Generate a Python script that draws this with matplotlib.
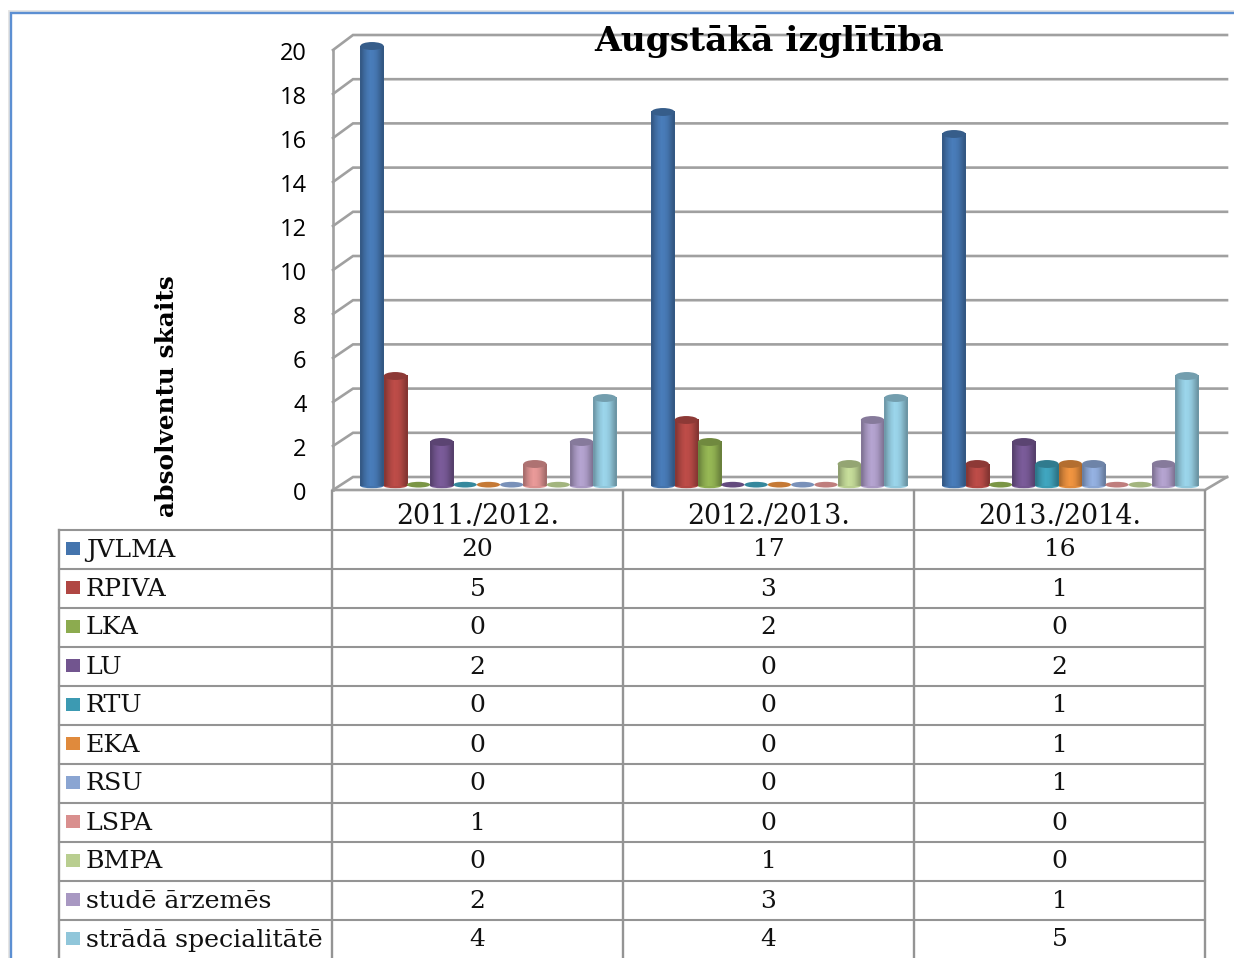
import matplotlib
matplotlib.use("Agg")
import matplotlib.pyplot as plt
import numpy as np
from matplotlib.patches import Ellipse, Rectangle
from matplotlib.transforms import ScaledTranslation

years = ["2011./2012.", "2012./2013.", "2013./2014."]
names = ["JVLMA", "RPIVA", "LKA", "LU", "RTU", "EKA", "RSU", "LSPA", "BMPA",
         "studē ārzemēs", "strādā specialitātē"]
jvlma = [20, 17, 16]
rpiva = [5, 3, 1]
lka = [0, 2, 0]
lu = [2, 0, 2]
rtu = [0, 0, 1]
eka = [0, 0, 1]
rsu = [0, 0, 1]
lspa = [1, 0, 0]
bmpa = [0, 1, 0]
studies = [2, 3, 1]
works = [4, 4, 5]
series = [jvlma, rpiva, lka, lu, rtu, eka, rsu, lspa, bmpa, studies, works]
colors = ["#4474ad", "#b04743", "#8cab4f", "#72558f", "#3c9ab2", "#e08a3c",
          "#8aa5d2", "#d98f8e", "#b9ce90", "#a898c2", "#90c6da"]
yticks = list(range(0, 21, 2))

W, H = 1234, 958
grid_c = "#a0a0a0"
line_c = "#949494"
serif = "DejaVu Serif"

fig = plt.figure(figsize=(W / 100, H / 100), dpi=100)

# pixel canvas for frame, walls and table
bg = fig.add_axes([0, 0, 1, 1])
bg.set_xlim(0, W)
bg.set_ylim(H, 0)
bg.axis("off")

# frame around the chart
bg.plot([8.5, 8.5, W], [H, 10.5, 10.5], color="#e2e2e2", lw=2, solid_joinstyle="miter")
bg.plot([10.5, 10.5, W], [H, 12.5, 12.5], color="#5c8fd2", lw=1.7, solid_joinstyle="miter")

# walls of the 3d box
front0, back0, fstep, bstep = 490, 477, 22.0, 22.1
for v in yticks:
    fy = front0 - fstep * v
    by = back0 - bstep * v
    bg.plot([333, 353, 1227], [fy, by, by], color=grid_c, lw=1.9, solid_joinstyle="miter")
bg.plot([333, 333], [front0, front0 - fstep * 20], color=grid_c, lw=1.9)
bg.plot([333, 1205, 1227], [front0, front0, back0], color=grid_c, lw=1.9, solid_joinstyle="miter")

# table
col_x = [332, 623, 914, 1205]
row_y = [491 + 39 * i for i in range(12)]
for y in row_y[1:]:
    bg.plot([59, 1205], [y, y], color=line_c, lw=1.5)
bg.plot([59, 59], [row_y[1], H], color=line_c, lw=1.7)
for x in col_x:
    bg.plot([x, x], [row_y[0], H], color=line_c, lw=1.7)

fs = 18
for j, yr in enumerate(years):
    bg.text((col_x[j] + col_x[j + 1]) / 2, 517, yr, ha="center", va="center",
            family=serif, fontsize=19.4, color="#111111")
for i, (name, vals) in enumerate(zip(names, series)):
    cy = row_y[1] + 39 * i + 19
    bg.add_patch(Rectangle((66, cy - 7), 14, 13, color=colors[i], lw=0))
    bg.text(86, cy + 1, name, ha="left", va="center", family=serif, fontsize=18.2, color="#111111")
    for j, v in enumerate(vals):
        bg.text((col_x[j] + col_x[j + 1]) / 2, cy + 1, str(v), ha="center", va="center",
                family=serif, fontsize=fs, color="#111111")

bg.text(769, 41, "Augstākā izglītība", ha="center", va="center", family=serif,
        fontweight="bold", fontsize=24.8, color="black", zorder=20)
bg.text(167, 396, "absolventu skaits", rotation=90, ha="center", va="center", family=serif,
        fontweight="bold", fontsize=17.8, color="black")

# bars: axes runs over the three table columns, y=0 at pixel 486, y=20 at pixel 46
ax = fig.add_axes([333 / W, 1 - 486 / H, 873 / W, 440 / H])
ax.patch.set_alpha(0)
for s in ax.spines.values():
    s.set_visible(False)

bar_w = 0.08
shade = np.array([0.78, 0.92, 1.02, 1.08, 1.06, 1.0, 0.88, 0.76])
for i, (vals, c) in enumerate(zip(series, colors)):
    base = np.array(matplotlib.colors.to_rgb(c))
    xs = np.arange(3) + 0.534 + (i - 5) * bar_w
    bars = ax.bar(xs, vals, width=bar_w, color=c, lw=0, zorder=3 + i)
    img = np.clip(base[None, None, :] * shade[None, :, None], 0, 1)
    for b, v in zip(bars, vals):
        x0 = b.get_x()
        x1 = x0 + b.get_width()
        if v > 0:
            ax.add_patch(Ellipse((x0 + bar_w / 2, 0), bar_w, 0.2, color=base, lw=0,
                                 zorder=3 + i, clip_on=False))
            ax.imshow(img, extent=(x0, x1, 0, v), aspect="auto", interpolation="bilinear", zorder=3 + i)
            ax.add_patch(Ellipse((x0 + bar_w / 2, v), bar_w, 0.36, color=base * 0.8, lw=0,
                                 zorder=3 + i, clip_on=False))
        else:
            ax.add_patch(Ellipse((x0 + bar_w / 2, 0.06), bar_w, 0.26, color=base * 0.88, lw=0,
                                 zorder=3 + i, clip_on=False))

ax.set_xlim(0, 3)
ax.set_ylim(0, 20)
ax.set_xticks([])
ax.set_yticks(yticks)
ax.tick_params(axis="y", length=0, pad=19, labelsize=17)
shift = ScaledTranslation(0, -5 / 100, fig.dpi_scale_trans)
for lab in ax.get_yticklabels():
    lab.set_family("Open Sans")
    lab.set_color("black")
    lab.set_transform(lab.get_transform() + shift)

fig.savefig("out.png", dpi=100)
